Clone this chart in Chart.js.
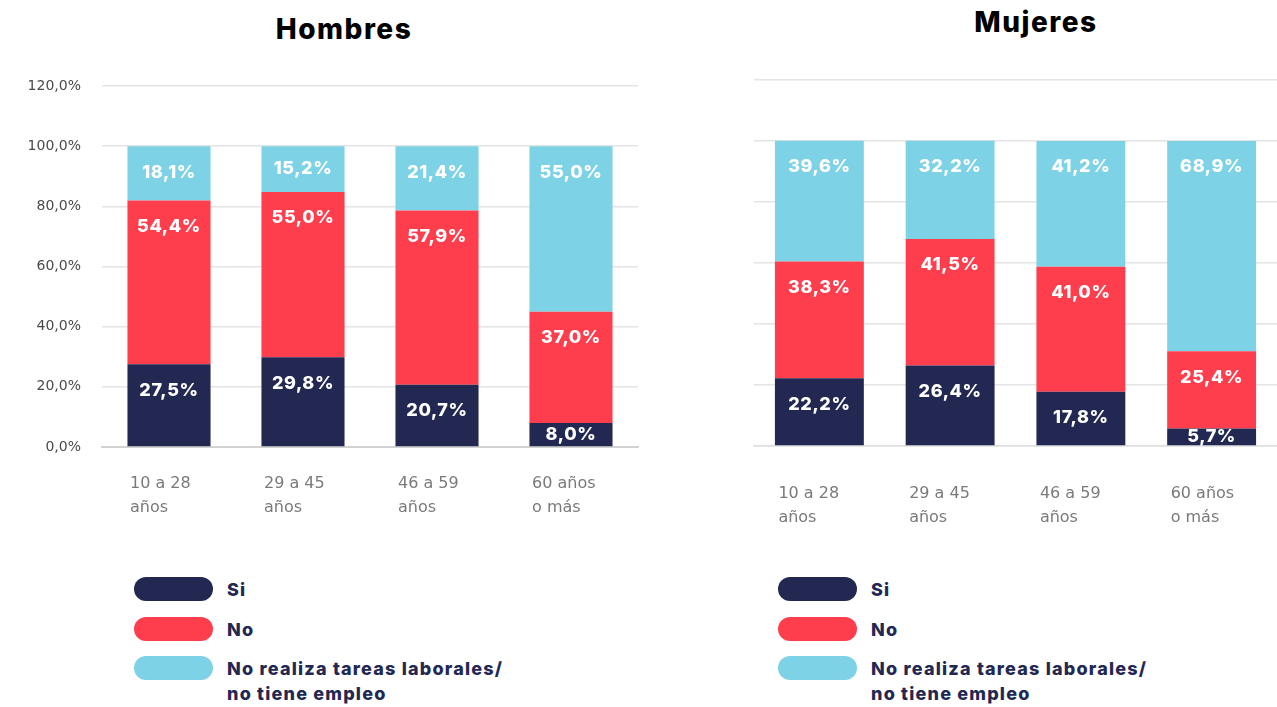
<!DOCTYPE html>
<html lang="es">
<head>
<meta charset="UTF-8">
<title>Hombres / Mujeres</title>
<style>
    body { margin: 0; width: 1277px; height: 707px; background: #fff; position: relative; overflow: hidden; font-family: Inter, "Open Sans", sans-serif; }
    .titulo { position: absolute; font-weight: 800; font-size: 28px; letter-spacing: 1.5px; line-height: 32px; color: #000; transform: translateX(-50%); white-space: nowrap; }
    .caja { position: absolute; }
    .leyenda { position: absolute; }
    .item { display: flex; align-items: flex-start; height: 39.5px; }
    .pill { width: 79px; height: 24px; border-radius: 12px; flex: none; }
    .item span { margin-left: 14px; font-weight: 800; font-size: 18px; letter-spacing: 1.2px; color: #222852; line-height: 25px; }
</style>
</head>
<body>

<div class="titulo" style="left:344px; top:13px;">Hombres</div>
<div class="titulo" style="left:1036px; top:6px;">Mujeres</div>

<div class="caja" style="left:0; top:76px; width:640px; height:451px;"><canvas id="hombres"></canvas></div>
<div class="caja" style="left:740px; top:70px; width:537px; height:456px;"><canvas id="mujeres"></canvas></div>

<div class="leyenda" id="leyendaH" style="left:134px; top:577px;"></div>
<div class="leyenda" id="leyendaM" style="left:778px; top:577px;"></div>

<script src="https://cdn.jsdelivr.net/npm/chart.js"></script>
<script>
    // datos
    const categorias = [['10 a 28', 'años'], ['29 a 45', 'años'], ['46 a 59', 'años'], ['60 años', 'o más']];
    const series = ['Si', 'No', 'No realiza tareas laborales/ no tiene empleo'];
    const colores = ['#222852', '#FF3E4D', '#7DD3E5'];

    const hombresSi = [27.5, 29.8, 20.7, 8.0];
    const hombresNo = [54.4, 55.0, 57.9, 37.0];
    const hombresNoRealiza = [18.1, 15.2, 21.4, 55.0];

    const mujeresSi = [22.2, 26.4, 17.8, 5.7];
    const mujeresNo = [38.3, 41.5, 41.0, 25.4];
    const mujeresNoRealiza = [39.6, 32.2, 41.2, 68.9];

    const ejeYMin = 0, ejeYMax = 120, ejeYPaso = 20;

    function formato(v) {
        return v.toFixed(1).replace('.', ',') + '%';
    }

    // etiquetas blancas dentro de cada segmento
    const etiquetas = {
        id: 'etiquetas',
        afterDatasetsDraw(chart) {
            const ctx = chart.ctx;
            ctx.save();
            ctx.font = '800 18px Inter, sans-serif';
            ctx.letterSpacing = '0.6px';
            ctx.fillStyle = '#fff';
            ctx.textAlign = 'center';
            ctx.textBaseline = 'middle';
            chart.data.datasets.forEach((ds, i) => {
                chart.getDatasetMeta(i).data.forEach((bar, j) => {
                    const y = Math.min(bar.y + 26, (bar.y + bar.base) / 2);
                    ctx.fillText(formato(ds.data[j]), bar.x, y);
                });
            });
            ctx.restore();
        }
    };

    function crearGrafico(id, si, no, noRealiza, op) {
        const ctx = document.getElementById(id).getContext('2d');
        const valores = [si, no, noRealiza];
        new Chart(ctx, {
            type: 'bar',
            data: {
                labels: categorias,
                datasets: series.map((s, i) => ({
                    label: s,
                    data: valores[i],
                    backgroundColor: colores[i],
                    barPercentage: op.ancho,
                    categoryPercentage: 1
                }))
            },
            options: {
                responsive: true,
                maintainAspectRatio: false,
                animation: false,
                layout: { padding: { top: 10, right: op.derecha, left: 0, bottom: 0 } },
                plugins: {
                    legend: { display: false },
                    tooltip: { enabled: false }
                },
                scales: {
                    x: {
                        stacked: true,
                        grid: { display: false, drawTicks: false },
                        border: { color: op.colorBase, width: op.grosorBase },
                        ticks: {
                            align: 'start',
                            labelOffset: op.desplaza,
                            padding: op.separa,
                            maxRotation: 0,
                            color: '#7a7a7a',
                            font: { family: '"DejaVu Sans", sans-serif', size: 16, weight: 400, lineHeight: 1.55 }
                        },
                        afterFit: s => { s.height = 80; s.paddingLeft = 0; s.paddingRight = 0; }
                    },
                    y: {
                        stacked: true,
                        min: ejeYMin,
                        max: ejeYMax,
                        border: { display: false },
                        grid: { color: '#e4e4e4', lineWidth: 1.5, drawTicks: false },
                        ticks: {
                            display: op.ejeY,
                            stepSize: ejeYPaso,
                            padding: 21,
                            color: '#4a4a4a',
                            font: { family: '"DejaVu Sans", sans-serif', size: 14, weight: 400 },
                            callback: v => formato(v)
                        },
                        afterFit: s => { s.width = op.anchoY; s.paddingTop = 0; s.paddingBottom = 0; }
                    }
                }
            },
            plugins: [etiquetas]
        });
    }

    crearGrafico('hombres', hombresSi, hombresNo, hombresNoRealiza,
        { ancho: 0.62, derecha: 2, colorBase: '#d2d2d2', grosorBase: 2, desplaza: -39, separa: 24, ejeY: true, anchoY: 102 });
    crearGrafico('mujeres', mujeresSi, mujeresNo, mujeresNoRealiza,
        { ancho: 0.68, derecha: 0, colorBase: '#dedede', grosorBase: 1.5, desplaza: -41, separa: 35, ejeY: false, anchoY: 14 });

    // leyendas
    function leyenda(id) {
        const cont = document.getElementById(id);
        series.forEach((s, i) => {
            const item = document.createElement('div');
            item.className = 'item';
            item.innerHTML = `<div class="pill" style="background:${colores[i]}"></div><span>${s.replace('/ ', '/<br>')}</span>`;
            cont.appendChild(item);
        });
    }
    leyenda('leyendaH');
    leyenda('leyendaM');
</script>
</body>
</html>
